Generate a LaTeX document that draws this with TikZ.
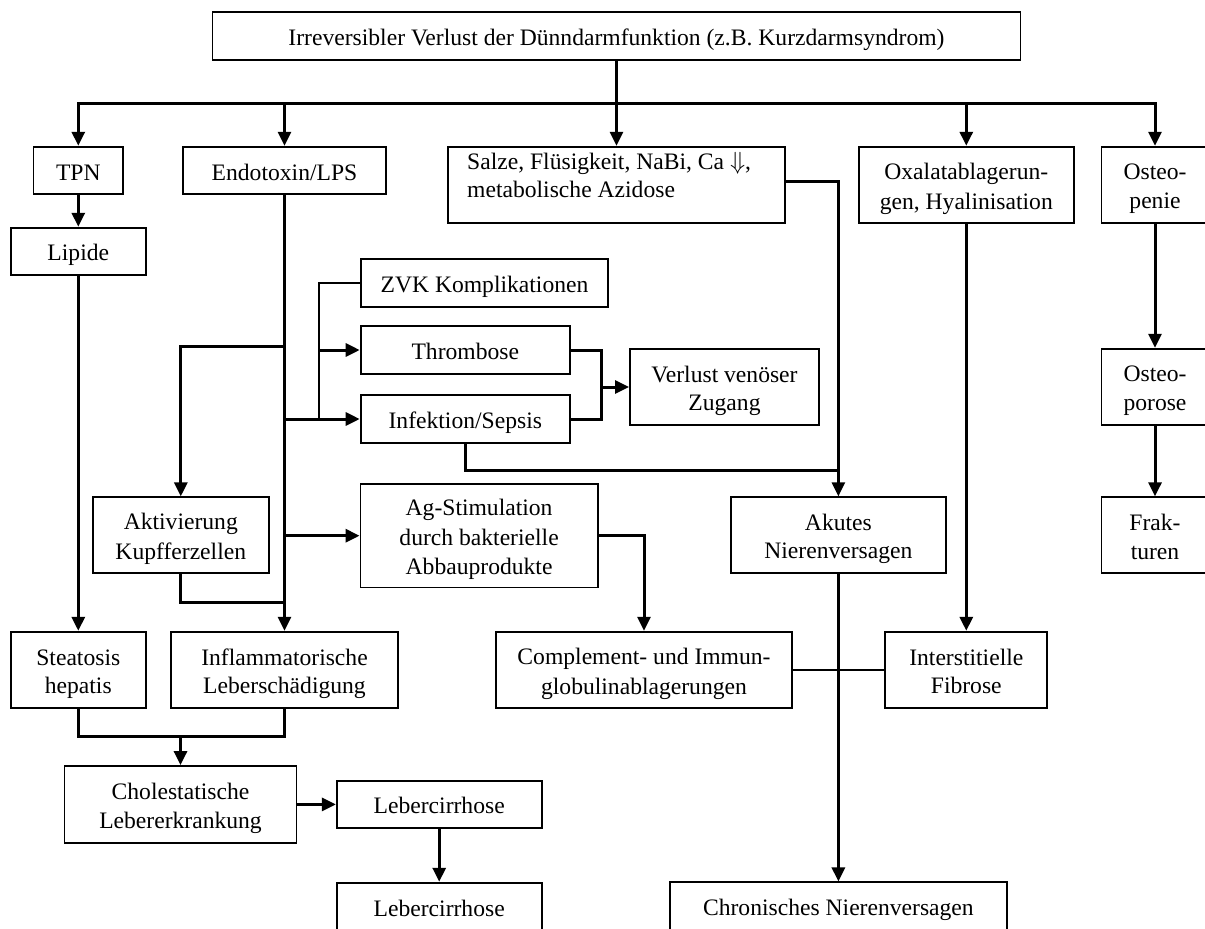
\documentclass[tikz,border=0pt]{standalone}
\usepackage{fontspec}
\setmainfont{Liberation Serif}
\usetikzlibrary{arrows.meta}
\newcommand\st{\rule[-4.7bp]{0pt}{28.5bp}}
\newcommand\nl{\\\st}
\newcommand\bx[6]{\node[box,minimum width=#4bp,minimum height=#5bp] (#1) at (#2,#3) {\st #6};}
\begin{document}
\begin{tikzpicture}[x=1bp,y=-1bp,
  txt/.style={inner sep=0pt, font=\fontsize{23.6bp}{28.5bp}\selectfont},
  box/.style={txt, draw, line width=1.9bp, align=center},
  conn/.style={line width=3bp},
  thin/.style={line width=2.3bp},
  arr/.style={conn, -{Triangle[length=14bp,width=13bp]}}]
\useasboundingbox (0,0) rectangle (1205,929);
\clip (0,0) rectangle (1205,929);
% boxes
\bx{top}{616.5}{36}{808}{48}{Irreversibler Verlust der Dünndarmfunktion (z.B. Kurzdarmsyndrom)}
\bx{tpn}{78.3}{170.5}{89.5}{47.6}{TPN}
\bx{endo}{284.5}{170.5}{202.4}{47.6}{Endotoxin/LPS}
\node[box,minimum width=337.4bp,minimum height=76bp] (salze) at (616.5,184.7) {};
\node[txt,align=left,anchor=base west] (salzeT) at (467,197.5) {Salze, Flüsigkeit, NaBi, Ca $\Downarrow$,\\metabolische Azidose};
\bx{oxal}{966.3}{184.7}{215.5}{76}{Oxalatablagerun-\nl gen, Hyalinisation}
\bx{ostpe}{1155}{184.7}{107}{76}{Osteo-\nl penie}
\bx{lipide}{78.3}{251.5}{135.3}{47.6}{Lipide}
\bx{zvk}{484.5}{283}{247.6}{47.4}{ZVK Komplikationen}
\bx{thromb}{465.3}{350}{209.3}{48}{Thrombose}
\bx{infekt}{465.3}{419}{209.3}{47.4}{Infektion/Sepsis}
\bx{verlust}{724.5}{387}{189}{76}{Verlust venöser\nl Zugang}
\bx{aktiv}{180.8}{535.3}{176.4}{76}{Aktivierung\nl Kupfferzellen}
\bx{ag}{479.1}{535.7}{237.2}{103.5}{Ag-Stimulation\nl durch bakterielle\nl Abbauprodukte}
\bx{akutes}{838.4}{535.3}{215.3}{76}{Akutes\nl Nierenversagen}
\bx{ostpo}{1155}{386.7}{107}{76}{Osteo-\nl porose}
\bx{frakt}{1155}{535.3}{107}{76}{Frak-\nl turen}
\bx{steat}{78.3}{669.9}{135}{76.3}{Steatosis\nl hepatis}
\bx{inflam}{284.5}{669.9}{226.5}{76.3}{Inflammatorische\nl Leberschädigung}
\bx{compl}{644}{669.9}{296}{76.3}{Complement- und Immun-\nl globulinablagerungen}
\bx{inters}{966.3}{669.9}{162}{76.3}{Interstitielle\nl Fibrose}
\bx{chol}{180.5}{804.4}{232}{76.7}{Cholestatische\nl Lebererkrankung}
\bx{lebA}{439.2}{804.4}{204.7}{47.6}{Lebercirrhose}
\bx{lebB}{439.2}{906.5}{204.7}{47.6}{Lebercirrhose}
\bx{chron}{838.4}{906.2}{336.8}{47.6}{Chronisches Nierenversagen}
% connectors
\coordinate (bus) at (616.5,103);
\draw[arr] (top.south) -- (salze.north);
\draw[arr] (bus) -| (tpn.north);
\draw[arr] (bus) -| (endo.north);
\draw[arr] (bus) -| (oxal.north);
\draw[arr] (bus) -| (ostpe.north);
\draw[arr] (tpn.south) -- (lipide.north);
\draw[arr] (lipide.south) -- (steat.north);
\draw[arr] (endo.south) -- (inflam.north);
\coordinate (kb) at (284.5,346.7);
\draw[arr] (kb) -| (aktiv.north);
\coordinate (ib) at (284.5,419);
\draw[arr] (ib) -- (infekt.west);
\coordinate (zx) at (319,419);
\draw[thin] (zvk.west) -| (zx);
\draw[conn] (zx) -- (ib);
\draw[arr] (319,350) -- (thromb.west);
\coordinate (ab) at (284.5,535.7);
\draw[arr] (ab) -- (ag.west);
\coordinate (vj) at (601.7,387);
\draw[conn] (thromb.east) -| (vj) |- (infekt.east);
\draw[arr] (vj) -- (verlust.west);
\coordinate (ij) at (838.4,470.7);
\draw[conn] (infekt.south) |- (ij);
\draw[arr,line width=2.5bp] ([yshift=3bp]salze.east) -| (akutes.north);
\coordinate (kj) at (284.5,602.3);
\draw[conn] (aktiv.south) |- (kj);
\draw[arr] (ag.east) -| (compl.north);
\draw[arr] (akutes.south) -- (chron.north);
\draw[arr] (oxal.south) -- (inters.north);
\draw[thin] (compl.east) -- (inters.west);
\draw[arr] (ostpe.south) -- (ostpo.north);
\draw[arr] (ostpo.south) -- (frakt.north);
\coordinate (sj) at (78.3,736.7);
\draw[conn] (steat.south) -- (sj) -| (inflam.south);
\draw[arr] (180.5,736.7) -- (chol.north);
\draw[arr] (chol.east) -- (lebA.west);
\draw[arr] (lebA.south) -- (lebB.north);
\end{tikzpicture}
\end{document}
